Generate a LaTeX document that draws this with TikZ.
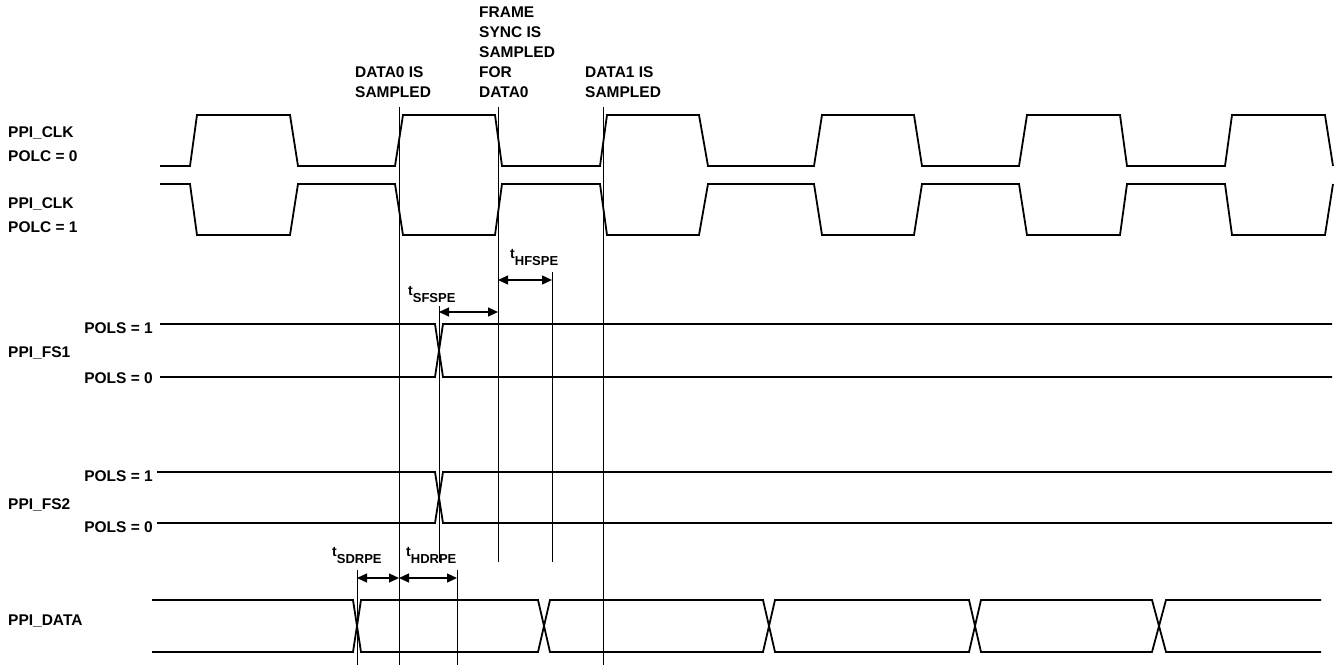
\documentclass[tikz,border=0pt]{standalone}
\usepackage{fontspec}
\setmainfont{Liberation Sans}
\usetikzlibrary{arrows.meta}
\newcommand{\tsub}[1]{t\raisebox{-7.5pt}{\fontsize{13}{13}\selectfont #1}}
\begin{document}
\begin{tikzpicture}[x=1pt,y=-1pt,
  sig/.style={line width=1.8pt, line join=miter},
  refl/.style={line width=0.9pt},
  lbl/.style={font=\fontsize{15.5}{20}\selectfont\bfseries, inner sep=0pt},
  tlbl/.style={font=\fontsize{14}{14}\selectfont\bfseries, inner sep=0pt},
  dimarrow/.style={line width=1.3pt, {Triangle[length=10pt,width=9pt]}-{Triangle[length=10pt,width=9pt]}}]
\useasboundingbox (0,0) rectangle (1336,667);

% top annotations
\node[lbl, align=left, anchor=south west] (d0s) at (355,98) {DATA0 IS\\SAMPLED};
\node[lbl, align=left, anchor=south west] (fss) at (479,98) {FRAME\\SYNC IS\\SAMPLED\\FOR\\DATA0};
\node[lbl, align=left, anchor=south west] (d1s) at (585,98) {DATA1 IS\\SAMPLED};

% left labels
\node[lbl, anchor=base west] (clk0a) at (8,137.5) {PPI\_CLK};
\node[lbl, anchor=base west] (clk0b) at (8,161) {POLC = 0};
\node[lbl, anchor=base west] (clk1a) at (8,208) {PPI\_CLK};
\node[lbl, anchor=base west] (clk1b) at (8,232) {POLC = 1};
\node[lbl, anchor=base west] (fs1) at (8,357.5) {PPI\_FS1};
\node[lbl, anchor=base east] (fs1h) at (153,333) {POLS = 1};
\node[lbl, anchor=base east] (fs1l) at (153,383) {POLS = 0};
\node[lbl, anchor=base west] (fs2) at (8,509) {PPI\_FS2};
\node[lbl, anchor=base east] (fs2h) at (153,481) {POLS = 1};
\node[lbl, anchor=base east] (fs2l) at (153,532) {POLS = 0};
\node[lbl, anchor=base west] (pdata) at (8,625.5) {PPI\_DATA};

% reference lines
\draw[refl] (399,107) -- (399,665);
\draw[refl] (498,107) -- (498,562);
\draw[refl] (603,107) -- (603,665);
\draw[refl] (552,272) -- (552,562);
\draw[refl] (439,306) -- (439,562);
\draw[refl] (357,570) -- (357,665);
\draw[refl] (457,570) -- (457,665);

% PPI_CLK POLC=0
\draw[sig] (160,166) -- (190,166) -- (197,115) -- (290,115) -- (298,166) -- (395,166) -- (403,115) -- (495,115) -- (502,166) -- (600,166) -- (607,115) -- (699,115) -- (708,166) -- (814,166) -- (822,115) -- (914,115) -- (922,166) -- (1019,166) -- (1027,115) -- (1120,115) -- (1127,166) -- (1225,166) -- (1232,115) -- (1325,115) -- (1333,166);
% PPI_CLK POLC=1
\draw[sig] (160,184) -- (190,184) -- (197,235) -- (290,235) -- (298,184) -- (395,184) -- (403,235) -- (495,235) -- (502,184) -- (600,184) -- (607,235) -- (699,235) -- (708,184) -- (814,184) -- (822,235) -- (914,235) -- (922,184) -- (1019,184) -- (1027,235) -- (1120,235) -- (1127,184) -- (1225,184) -- (1232,235) -- (1325,235) -- (1333,184);

% PPI_FS1
\draw[sig] (160,324) -- (435,324) -- (443,377) -- (1332,377);
\draw[sig] (160,377) -- (435,377) -- (443,324) -- (1332,324);
% PPI_FS2
\draw[sig] (157,472) -- (435,472) -- (443,523) -- (1332,523);
\draw[sig] (157,523) -- (435,523) -- (443,472) -- (1332,472);

% PPI_DATA
\draw[sig] (152,600) -- (353,600) -- (361,652) -- (538,652) -- (550,600) -- (763,600) -- (775,652) -- (969,652) -- (981,600) -- (1152,600) -- (1166,652) -- (1321,652);
\draw[sig] (152,652) -- (353,652) -- (361,600) -- (538,600) -- (550,652) -- (763,652) -- (775,600) -- (969,600) -- (981,652) -- (1152,652) -- (1166,600) -- (1321,600);

% timing dimensions
\coordinate (sfa) at (439,312); \coordinate (sfb) at (498,312);
\coordinate (hfa) at (498,280); \coordinate (hfb) at (552,280);
\coordinate (sda) at (357,578); \coordinate (sdb) at (399,578);
\coordinate (hda) at (399,578); \coordinate (hdb) at (457,578);
\draw[dimarrow] (sfa) -- (sfb);
\draw[dimarrow] (hfa) -- (hfb);
\draw[dimarrow] (sda) -- (sdb);
\draw[dimarrow] (hda) -- (hdb);
\node[tlbl, anchor=base west] (tsf) at (408,295) {\tsub{SFSPE}};
\node[tlbl, anchor=base west] (thf) at (510,258) {\tsub{HFSPE}};
\node[tlbl, anchor=base west] (tsd) at (332,556) {\tsub{SDRPE}};
\node[tlbl, anchor=base west] (thd) at (406,556) {\tsub{HDRPE}};
\end{tikzpicture}
\end{document}
